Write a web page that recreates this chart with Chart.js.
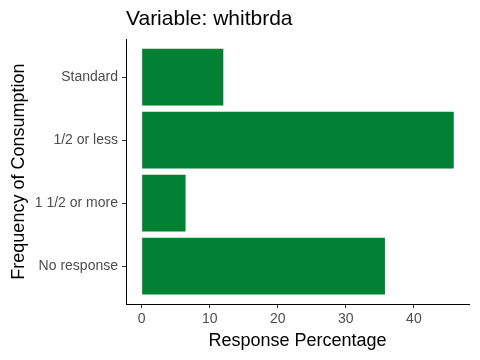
<!DOCTYPE html>
<html>
<head>
<meta charset="utf-8">
<script src="https://cdn.jsdelivr.net/npm/chart.js@4.4.1/dist/chart.umd.min.js"></script>
<style>
  html, body { margin: 0; padding: 0; background: #fff; }
  #wrap { width: 480px; height: 360px; position: relative; }
</style>
</head>
<body>
<div id="wrap"><canvas id="chart"></canvas></div>
<script>
const categories = ['Standard', '1/2 or less', '1 1/2 or more', 'No response'];
const percentages = [12.0, 45.86, 6.45, 35.75];
const xTicks = [0, 10, 20, 30, 40];

const FONT = '"Liberation Sans", Arial, sans-serif';
const barColor = '#017F32';

document.addEventListener('DOMContentLoaded', function() {
    const ctx = document.getElementById('chart').getContext('2d');

    new Chart(ctx, {
        type: 'bar',
        data: {
            datasets: [{
                data: percentages.map((v, i) => ({ x: v, y: i })),
                backgroundColor: barColor,
                borderWidth: 0,
                barPercentage: 0.9,
                categoryPercentage: 1
            }]
        },
        options: {
            indexAxis: 'y',
            responsive: true,
            maintainAspectRatio: false,
            animation: false,
            layout: { padding: { top: 0, right: 11, bottom: 0, left: 0 } },
            plugins: {
                legend: { display: false },
                tooltip: { enabled: false },
                title: {
                    display: true,
                    text: 'Variable: whitbrda',
                    align: 'start',
                    fullSize: false,
                    color: '#000',
                    font: { family: FONT, size: 21, weight: 'normal' },
                    padding: { top: 7, bottom: 7 }
                }
            },
            scales: {
                x: {
                    type: 'linear',
                    min: -2.3,
                    max: 48.1,
                    afterBuildTicks: scale => {
                        scale.ticks = xTicks.map(v => ({ value: v }));
                    },
                    afterFit: scale => { scale.height = 56; },
                    grid: {
                        drawOnChartArea: false,
                        tickLength: 4,
                        tickColor: '#333',
                        tickWidth: 1
                    },
                    border: { display: true, color: '#000', width: 1 },
                    ticks: {
                        color: '#4D4D4D',
                        padding: 3,
                        font: { family: FONT, size: 14 }
                    },
                    title: {
                        display: true,
                        text: 'Response Percentage',
                        color: '#000',
                        font: { family: FONT, size: 18 },
                        padding: { top: 0, bottom: 8 }
                    }
                },
                y: {
                    type: 'linear',
                    reverse: true,
                    offset: false,
                    min: -0.6,
                    max: 3.6,
                    afterBuildTicks: scale => {
                        scale.ticks = categories.map((c, i) => ({ value: i }));
                    },
                    afterFit: scale => { scale.width = 126; },
                    grid: {
                        offset: false,
                        drawOnChartArea: false,
                        tickLength: 4,
                        tickColor: '#333',
                        tickWidth: 1
                    },
                    border: { display: true, color: '#000', width: 1 },
                    ticks: {
                        color: '#4D4D4D',
                        padding: 4,
                        font: { family: FONT, size: 14 },
                        callback: value => categories[value]
                    },
                    title: {
                        display: true,
                        text: 'Frequency of Consumption',
                        color: '#000',
                        font: { family: FONT, size: 18 },
                        padding: { top: 8, bottom: 0 }
                    }
                }
            }
        }
    });
});
</script>
</body>
</html>
